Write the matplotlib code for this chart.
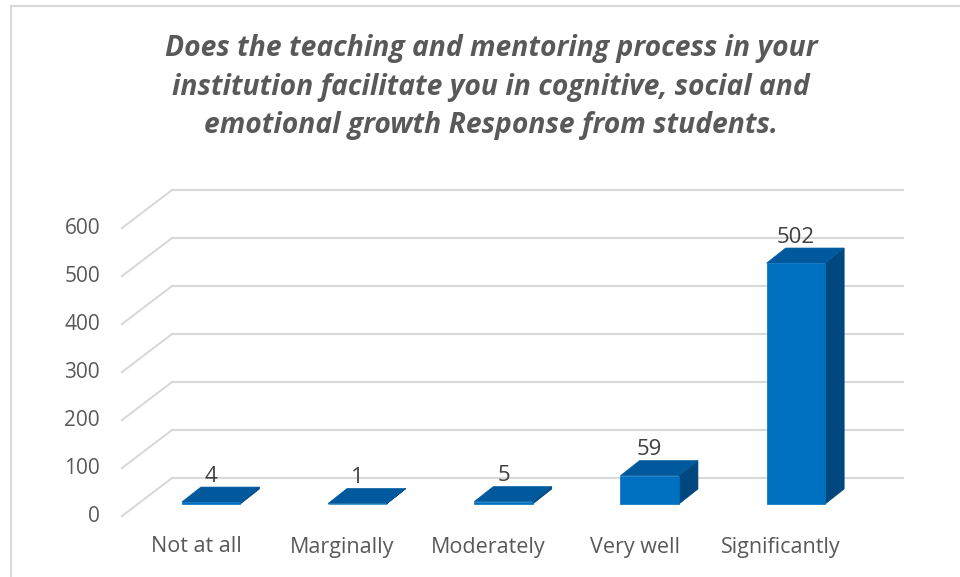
import matplotlib
matplotlib.use("Agg")
import matplotlib.pyplot as plt
import matplotlib.transforms as mtransforms
from matplotlib.patches import Polygon, Rectangle
import numpy as np

categories = ["Not at all", "Marginally", "Moderately", "Very well", "Significantly"]
responses = [4, 1, 5, 59, 502]
yticks = [0, 100, 200, 300, 400, 500, 600]
title = ("Does the teaching and mentoring process in your\n"
         "institution facilitate you in cognitive, social and\n"
         "emotional growth Response from students.")

W, H = 960, 577
fig = plt.figure(figsize=(W / 100, H / 100), dpi=100)

# frame round the chart
fig.add_artist(Rectangle((11 / W, -0.1), 1.2, (H - 6) / H + 0.1, transform=fig.transFigure,
                         fill=False, edgecolor="#d9d9d9", linewidth=1.5))

# axes = back wall of the 3D box
left, right = 172 / W, 903 / W
bottom, top = (H - 478) / H, (H - 190) / H
ax = fig.add_axes([left, bottom, right - left, top - bottom])
ax.set_xlim(-0.5, 4.5)
ax.set_ylim(0, 600)
ax.axis("off")

def shift(dx, dy):
    # offset in pixels (dy positive = up)
    return ax.transData + mtransforms.ScaledTranslation(dx / 100, dy / 100, fig.dpi_scale_trans)

FX, FY = -50, -38          # floor depth (back -> front)
grid_c = "#d9d9d9"
for v in yticks:
    # diagonal piece from front to back wall
    x0, y0 = ax.transData.transform((-0.5, v))
    fig.add_artist(plt.Line2D([(x0 + FX) / W, x0 / W], [(y0 + FY) / H, y0 / H],
                              transform=fig.transFigure, color=grid_c, lw=1.5))
    ax.plot([-0.5, 4.5], [v, v], color=grid_c, lw=1.5, clip_on=False)
    ax.text(-0.5, v, str(v), transform=shift(FX - 22, FY), ha="right", va="center",
            fontsize=15, color="#595959", family="Open Sans")

# bars
bw = 0.4
front_c, top_c, side_c = "#0070c0", "#00599c", "#00467f"
fd = (-34, -26)   # front face offset
bd = (-15, -11)   # back face offset
for i, v in enumerate(responses):
    xl, xr = i - bw / 2, i + bw / 2
    p = lambda x, y, d: ax.transData.transform((x, y)) + np.array(d)
    fl, fr = p(xl, 0, fd), p(xr, 0, fd)
    tl, tr = p(xl, v, fd), p(xr, v, fd)
    btl, btr = p(xl, v, bd), p(xr, v, bd)
    bbr = p(xr, 0, bd)
    def poly(pts, c):
        pts = np.array(pts) / np.array([W, H])
        fig.add_artist(Polygon(pts, closed=True, facecolor=c, edgecolor=c, lw=0.5,
                               transform=fig.transFigure))
    poly([fr, bbr, btr, tr], side_c)
    poly([tl, tr, btr, btl], top_c)
    poly([fl, fr, tr, tl], front_c)
    ax.text(i, v, str(v), transform=shift(fd[0], 0), ha="center", va="center",
            fontsize=16, color="#404040", family="Open Sans")
    ax.text(i, 0, categories[i], transform=shift(-49, -69), ha="center", va="center",
            fontsize=15.5, color="#595959", family="Open Sans")

fig.text(491 / W, 1 - 87 / H, title, ha="center", va="center", fontsize=20.3,
         fontweight="bold", fontstyle="italic", color="#595959", family="Open Sans",
         linespacing=1.43)

fig.savefig("out.png", dpi=100, facecolor="white")
